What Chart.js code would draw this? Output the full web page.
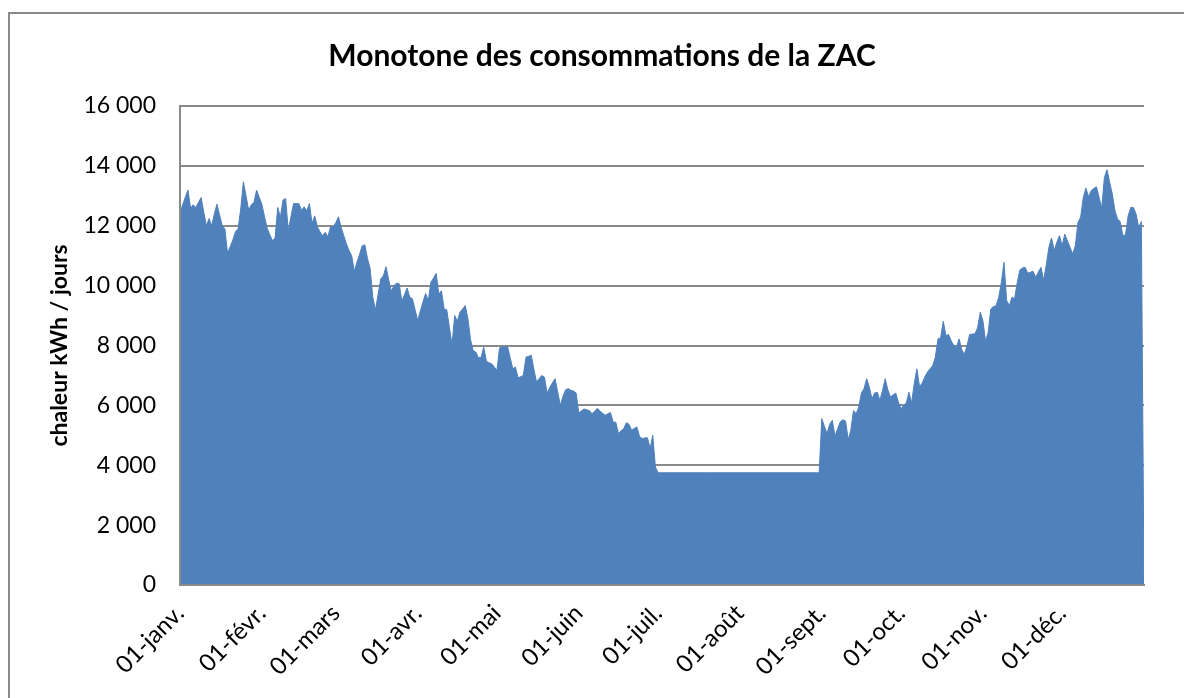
<!DOCTYPE html>
<html lang="fr">
<head>
<meta charset="utf-8">
<title>Monotone des consommations de la ZAC</title>
<script src="https://cdn.jsdelivr.net/npm/chart.js@4.4.1/dist/chart.umd.min.js"></script>
<style>
  html, body { margin: 0; padding: 0; background: #fff; }
</style>
</head>
<body>
<canvas id="monotone" width="1184" height="698"></canvas>
<script>
/* Consommation journaliere de chaleur (kWh / jour), un tableau par mois */
let janvier = [12440, 12700, 12950, 13190, 12590, 12700, 12610, 12780, 12940, 12450,
  12000, 12240, 12000, 12400, 12720, 12350, 12000, 11890, 11080, 11300,
  11520, 11800, 11900, 12560, 13470, 13000, 12520, 12700, 12780, 13190, 12950]
let fevrier = [12720, 12300, 11920, 11700, 11500, 11590, 12610, 12280, 12860, 12910,
  11830, 12300, 12740, 12740, 12740, 12520, 12630, 12500, 12740, 12080,
  12330, 11970, 11800, 11670, 11780, 11630, 11970, 11970]
let mars = [12100, 12300, 11950, 11670, 11400, 11170, 11000, 10480, 10780, 11050,
  11330, 11360, 10900, 10560, 9610, 9190, 9700, 10220, 10330, 10630,
  10200, 9810, 10000, 10080, 10060, 9480, 9700, 9920, 9610, 9560, 9200]
let avril = [8830, 9150, 9450, 9740, 9500, 10110, 10250, 10410, 9720, 9830,
  9220, 9190, 8600, 8030, 9000, 8810, 9110, 9220, 9330, 8900,
  8200, 7830, 7780, 7590, 7600, 7940, 7480, 7420, 7390, 7280]
let mai = [7170, 7920, 7950, 7960, 7970, 7600, 7220, 7280, 6920, 6960,
  7000, 7610, 7640, 7670, 7200, 6780, 6900, 7000, 6940, 6410,
  6600, 6750, 6890, 6450, 6000, 6300, 6520, 6560, 6500, 6480, 6410]
let juin = [5740, 5820, 5880, 5850, 5830, 5720, 5800, 5900, 5810, 5740,
  5670, 5720, 5760, 5440, 5440, 5060, 5150, 5220, 5420, 5370,
  5170, 5230, 5280, 4960, 4890, 4910, 4920, 4560, 5000, 3940]
// ete : seule l'eau chaude sanitaire reste
let juillet = [3750, 3750, 3750, 3750, 3750, 3750, 3750, 3750, 3750, 3750,
  3750, 3750, 3750, 3750, 3750, 3750, 3750, 3750, 3750, 3750,
  3750, 3750, 3750, 3750, 3750, 3750, 3750, 3750, 3750, 3750, 3750]
let aout = [3750, 3750, 3750, 3750, 3750, 3750, 3750, 3750, 3750, 3750,
  3750, 3750, 3750, 3750, 3750, 3750, 3750, 3750, 3750, 3750,
  3750, 3750, 3750, 3750, 3750, 3750, 3750, 3750, 3750, 3750, 3750]
let septembre = [5560, 5300, 5060, 5370, 5500, 4970, 5220, 5450, 5520, 5480,
  4860, 5170, 5830, 5720, 5940, 6410, 6560, 6890, 6610, 6220,
  6410, 6440, 6170, 6500, 6890, 6520, 6280, 6350, 6410, 6110]
let octobre = [5890, 6000, 6080, 6440, 6080, 6720, 7220, 6630, 6740, 6950,
  7110, 7220, 7330, 7610, 8220, 8260, 8810, 8330, 8370, 8150,
  8000, 7940, 8220, 7860, 7700, 8000, 8370, 8380, 8390, 8590, 9110]
let novembre = [8830, 8140, 8440, 9220, 9300, 9330, 9610, 10110, 10780, 9500,
  9330, 9610, 9560, 10100, 10520, 10590, 10610, 10410, 10450, 10480,
  10280, 10450, 10610, 10170, 10700, 11280, 11590, 11170, 11450, 11670]
let decembre = [11330, 11720, 11500, 11280, 11060, 11330, 12110, 12280, 12940, 13260,
  12970, 13170, 13250, 13300, 12950, 12590, 13610, 13870, 13450, 13060,
  12500, 12220, 12140, 11670, 11700, 12330, 12610, 12610, 12390, 11940, 12140]
let finAnnee = 0   // la serie retombe a zero apres le 31 dec.

let moisNoms = ['01-janv.', '01-févr.', '01-mars', '01-avr.', '01-mai', '01-juin',
  '01-juil.', '01-août', '01-sept.', '01-oct.', '01-nov.', '01-déc.']
let yTicks = [0, 2000, 4000, 6000, 8000, 10000, 12000, 14000, 16000]

let parMois = [janvier, fevrier, mars, avril, mai, juin, juillet, aout, septembre, octobre, novembre, decembre]

// jour de l'annee du 1er de chaque mois
let debutsMois = []
let jour = 0
parMois.forEach(function(m) {
  debutsMois.push(jour)
  jour += m.length
})

let points = []
parMois.flat().forEach(function(v, i) {
  points.push({ x: i, y: v })
})
points.push({ x: jour, y: finAnnee })

// "16 000"
function milliers(v) {
  return String(v).replace(/\B(?=(\d{3})+(?!\d))/g, ' ')
}

let gris = '#8a8a8a'

// cadre gris autour du graphique
let cadre = {
  id: 'cadre',
  beforeDraw(chart) {
    let ctx = chart.ctx
    ctx.save()
    ctx.fillStyle = '#fff'
    ctx.fillRect(0, 0, chart.width, chart.height)
    ctx.strokeStyle = gris
    ctx.lineWidth = 2
    ctx.strokeRect(9, 13, chart.width + 20, chart.height + 20)
    ctx.restore()
  }
}

let ctx = document.querySelector('#monotone').getContext('2d')

let monotoneChart = new Chart(ctx, {
  type: 'line',
  data: {
    datasets: [{
      data: points,
      fill: 'origin',
      backgroundColor: '#4F81BD',
      borderColor: '#4F81BD',
      borderWidth: 1,
      pointRadius: 0,
      tension: 0
    }]
  },
  options: {
    responsive: false,
    animation: false,
    layout: { padding: { left: 60, right: 40, top: 0, bottom: 0 } },
    plugins: {
      legend: { display: false },
      tooltip: { enabled: false },
      title: {
        display: true,
        text: 'Monotone des consommations de la ZAC',
        color: '#000',
        font: { family: 'Lato', size: 30, weight: 'bold' },
        padding: { top: 38, bottom: 32 }
      }
    },
    scales: {
      x: {
        type: 'linear',
        min: 0,
        max: jour,
        offset: false,
        afterBuildTicks: function(axis) {
          axis.ticks = debutsMois.map(function(d) { return { value: d } })
        },
        ticks: {
          autoSkip: false,
          minRotation: 45,
          maxRotation: 45,
          padding: 14,
          color: '#000',
          font: { family: 'Lato', size: 24 },
          callback: function(v, i) { return moisNoms[i] }
        },
        grid: { display: false, drawTicks: false },
        border: { display: true, color: gris, width: 2, z: 1 },
        afterFit: function(scale) { scale.height = 113 }
      },
      y: {
        min: 0,
        max: 16000,
        afterBuildTicks: function(axis) {
          axis.ticks = yTicks.map(function(v) { return { value: v } })
        },
        ticks: {
          padding: 24,
          color: '#000',
          font: { family: 'Lato', size: 23 },
          callback: function(v) { return milliers(v) }
        },
        grid: { color: gris, lineWidth: 2, drawTicks: false },
        border: { display: true, color: gris, width: 2, z: 1 },
        title: {
          display: true,
          text: 'chaleur kWh / jours',
          color: '#000',
          font: { family: 'Lato', size: 23, weight: 'bold' },
          padding: { top: -13.8, bottom: 0 }
        },
        afterFit: function(scale) { scale.width = 120 }
      }
    }
  },
  plugins: [cadre]
})
</script>
</body>
</html>
